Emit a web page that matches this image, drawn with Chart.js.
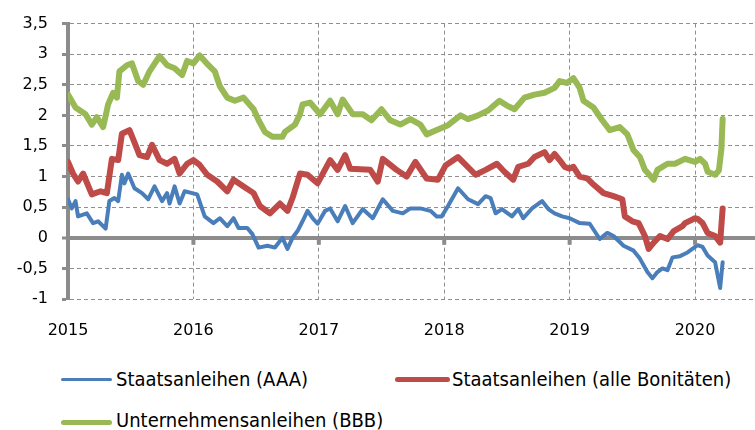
<!DOCTYPE html>
<html>
<head>
<meta charset="utf-8">
<script src="https://cdn.jsdelivr.net/npm/chart.js@4"></script>
<style>
  html, body { margin: 0; padding: 0; background: #fff; }
  #wrap { position: relative; width: 755px; height: 430px; overflow: hidden; }
  #chart { position: absolute; left: 0; top: 0; }
  .lg-line { position: absolute; border-radius: 3px; }
  .lg-text { position: absolute; font-family: "Liberation Sans Narrow", "DejaVu Sans Condensed", "Roboto", sans-serif;
             font-size: 20px; line-height: 24px; color: #000; white-space: nowrap; }
</style>
</head>
<body>
<div id="wrap">
  <canvas id="chart" width="755" height="350"></canvas>
  <div class="lg-line" style="left:61px;top:378px;width:51px;height:3px;background:#4A7EBB"></div>
  <div class="lg-text" style="left:116px;top:367px">Staatsanleihen (AAA)</div>
  <div class="lg-line" style="left:395px;top:377px;width:55px;height:5px;background:#BE4B48"></div>
  <div class="lg-text" style="left:452px;top:367px">Staatsanleihen (alle Bonitäten)</div>
  <div class="lg-line" style="left:61px;top:420px;width:51px;height:5px;background:#98B954"></div>
  <div class="lg-text" style="left:116px;top:408px">Unternehmensanleihen (BBB)</div>
</div>
<script>
// series labels
const seriesNames = ['Staatsanleihen (AAA)', 'Staatsanleihen (alle Bonitäten)', 'Unternehmensanleihen (BBB)'];

// x values are decimal years
const aaaYears = [2015.00, 2015.03, 2015.06, 2015.08, 2015.15, 2015.20, 2015.24, 2015.30, 2015.33, 2015.37,
  2015.40, 2015.43, 2015.45, 2015.48, 2015.53, 2015.59, 2015.64, 2015.69, 2015.75, 2015.79,
  2015.81, 2015.85, 2015.89, 2015.93, 2015.99, 2016.03, 2016.09, 2016.16, 2016.21, 2016.27,
  2016.32, 2016.36, 2016.43, 2016.47, 2016.52, 2016.59, 2016.65, 2016.71, 2016.75, 2016.79,
  2016.83, 2016.87, 2016.91, 2016.95, 2016.99, 2017.05, 2017.09, 2017.15, 2017.21, 2017.27,
  2017.35, 2017.43, 2017.51, 2017.59, 2017.67, 2017.73, 2017.81, 2017.89, 2017.94, 2017.98,
  2018.03, 2018.11, 2018.19, 2018.27, 2018.33, 2018.37, 2018.41, 2018.46, 2018.54, 2018.59,
  2018.63, 2018.70, 2018.78, 2018.83, 2018.88, 2018.94, 2019.00, 2019.08, 2019.16, 2019.24,
  2019.30, 2019.35, 2019.43, 2019.51, 2019.56, 2019.62, 2019.66, 2019.70, 2019.74, 2019.78,
  2019.82, 2019.88, 2019.94, 2020.02, 2020.06, 2020.10, 2020.16, 2020.20, 2020.22];
const aaaValues = [0.63, 0.48, 0.60, 0.35, 0.40, 0.24, 0.27, 0.15, 0.60, 0.65,
  0.60, 1.03, 0.89, 1.05, 0.81, 0.73, 0.63, 0.84, 0.60, 0.73,
  0.56, 0.84, 0.56, 0.76, 0.73, 0.71, 0.35, 0.24, 0.32, 0.19,
  0.32, 0.16, 0.16, 0.06, -0.16, -0.13, -0.16, 0.00, -0.18, 0.00,
  0.11, 0.27, 0.44, 0.32, 0.23, 0.44, 0.48, 0.27, 0.52, 0.24,
  0.47, 0.32, 0.63, 0.44, 0.40, 0.48, 0.48, 0.44, 0.35, 0.35,
  0.52, 0.81, 0.63, 0.55, 0.68, 0.65, 0.40, 0.47, 0.35, 0.47,
  0.32, 0.48, 0.60, 0.47, 0.40, 0.35, 0.32, 0.24, 0.23, -0.02,
  0.08, 0.03, -0.13, -0.21, -0.34, -0.56, -0.66, -0.56, -0.50, -0.53,
  -0.32, -0.30, -0.24, -0.12, -0.15, -0.29, -0.40, -0.82, -0.40];

const allYears = [2015.00, 2015.04, 2015.08, 2015.12, 2015.19, 2015.26, 2015.31, 2015.35, 2015.40, 2015.43,
  2015.49, 2015.53, 2015.57, 2015.63, 2015.67, 2015.73, 2015.79, 2015.85, 2015.89, 2015.95,
  2016.00, 2016.05, 2016.11, 2016.19, 2016.27, 2016.32, 2016.40, 2016.48, 2016.53, 2016.61,
  2016.69, 2016.75, 2016.79, 2016.85, 2016.91, 2016.99, 2017.09, 2017.15, 2017.21, 2017.25,
  2017.41, 2017.47, 2017.51, 2017.62, 2017.70, 2017.77, 2017.86, 2017.95, 2018.01, 2018.11,
  2018.25, 2018.33, 2018.42, 2018.48, 2018.55, 2018.59, 2018.67, 2018.72, 2018.80, 2018.84,
  2018.88, 2018.92, 2018.96, 2019.00, 2019.03, 2019.08, 2019.14, 2019.19, 2019.27, 2019.35,
  2019.42, 2019.44, 2019.50, 2019.55, 2019.60, 2019.63, 2019.67, 2019.72, 2019.78, 2019.83,
  2019.90, 2019.92, 2020.00, 2020.02, 2020.06, 2020.10, 2020.16, 2020.20, 2020.22];
const allValues = [1.24, 1.05, 0.92, 1.05, 0.71, 0.76, 0.73, 1.29, 1.27, 1.70,
  1.76, 1.56, 1.35, 1.32, 1.52, 1.27, 1.21, 1.29, 1.05, 1.21,
  1.27, 1.19, 1.03, 0.92, 0.76, 0.95, 0.84, 0.73, 0.52, 0.40,
  0.56, 0.44, 0.65, 1.05, 1.03, 0.89, 1.27, 1.11, 1.35, 1.13,
  1.11, 0.92, 1.29, 1.11, 1.00, 1.24, 0.97, 0.95, 1.18, 1.32,
  1.03, 1.11, 1.21, 1.08, 0.95, 1.16, 1.21, 1.32, 1.40, 1.27,
  1.37, 1.27, 1.16, 1.13, 1.16, 1.00, 0.97, 0.87, 0.73, 0.68,
  0.63, 0.35, 0.27, 0.24, 0.03, -0.18, -0.08, 0.03, -0.02, 0.11,
  0.19, 0.24, 0.32, 0.31, 0.24, 0.08, 0.03, -0.08, 0.48];

const bbbYears = [2015.00, 2015.06, 2015.14, 2015.19, 2015.23, 2015.28, 2015.32, 2015.36, 2015.39, 2015.41,
  2015.47, 2015.51, 2015.56, 2015.60, 2015.65, 2015.73, 2015.79, 2015.85, 2015.91, 2015.95,
  2016.00, 2016.05, 2016.12, 2016.17, 2016.21, 2016.27, 2016.33, 2016.40, 2016.48, 2016.52,
  2016.57, 2016.63, 2016.71, 2016.73, 2016.81, 2016.85, 2016.87, 2016.93, 2017.01, 2017.09,
  2017.15, 2017.19, 2017.27, 2017.35, 2017.42, 2017.50, 2017.57, 2017.65, 2017.73, 2017.81,
  2017.86, 2017.94, 2018.03, 2018.13, 2018.19, 2018.27, 2018.35, 2018.44, 2018.50, 2018.56,
  2018.64, 2018.72, 2018.80, 2018.88, 2018.92, 2018.98, 2019.03, 2019.08, 2019.11, 2019.19,
  2019.26, 2019.32, 2019.40, 2019.46, 2019.51, 2019.56, 2019.60, 2019.67, 2019.70, 2019.78,
  2019.84, 2019.92, 2020.00, 2020.04, 2020.08, 2020.10, 2020.16, 2020.19, 2020.21, 2020.22];
const bbbValues = [2.34, 2.13, 2.02, 1.85, 1.97, 1.81, 2.18, 2.37, 2.29, 2.72,
  2.82, 2.85, 2.56, 2.50, 2.72, 2.97, 2.82, 2.77, 2.66, 2.89,
  2.85, 2.98, 2.82, 2.72, 2.48, 2.29, 2.24, 2.29, 2.10, 1.92,
  1.73, 1.65, 1.65, 1.73, 1.85, 2.02, 2.18, 2.21, 2.02, 2.24,
  2.02, 2.26, 2.02, 2.02, 1.92, 2.10, 1.92, 1.85, 1.94, 1.85,
  1.69, 1.76, 1.84, 2.00, 1.94, 2.00, 2.08, 2.24, 2.16, 2.10,
  2.29, 2.34, 2.37, 2.45, 2.56, 2.53, 2.61, 2.45, 2.24, 2.13,
  1.92, 1.76, 1.81, 1.69, 1.43, 1.32, 1.11, 0.95, 1.11, 1.21,
  1.21, 1.29, 1.24, 1.29, 1.21, 1.08, 1.03, 1.10, 1.45, 1.94];

const yearTicks = [2015, 2016, 2017, 2018, 2019, 2020];

function toPoints(xs, ys) {
    return xs.map((x, i) => ({ x: x, y: ys[i] }));
}

const tickFont = { family: 'DejaVu Sans', size: 16 };
const gridGrey = '#8f8f8f';
const axisGrey = '#8c8c8c';
const isZero = c => !!(c.tick && c.tick.value === 0);

// little tick marks hanging under the zero line at each year
const zeroTicks = {
    id: 'zeroTicks',
    afterDatasetsDraw(chart) {
        const ctx = chart.ctx;
        const xs = chart.scales.x;
        const y0 = chart.scales.y.getPixelForValue(0);
        ctx.save();
        ctx.fillStyle = axisGrey;
        yearTicks.slice(1).forEach(yr => {
            const px = xs.getPixelForValue(yr);
            ctx.fillRect(px - 2, y0, 4, 7);
        });
        ctx.restore();
    }
};

new Chart(document.getElementById('chart').getContext('2d'), {
    type: 'line',
    data: {
        datasets: [
            { label: seriesNames[0], data: toPoints(aaaYears, aaaValues), borderColor: '#4A7EBB', borderWidth: 4 },
            { label: seriesNames[1], data: toPoints(allYears, allValues), borderColor: '#BE4B48', borderWidth: 6 },
            { label: seriesNames[2], data: toPoints(bbbYears, bbbValues), borderColor: '#98B954', borderWidth: 6 }
        ]
    },
    options: {
        responsive: false,
        animation: false,
        layout: { padding: { top: 20, right: 0, bottom: 0, left: 0 } },
        elements: {
            point: { radius: 0 },
            line: { tension: 0, borderJoinStyle: 'round', borderCapStyle: 'round', fill: false }
        },
        plugins: { legend: { display: false }, tooltip: { enabled: false } },
        scales: {
            x: {
                type: 'linear',
                min: 2015,
                max: 2020.478,
                afterFit: s => { s.height = 51; },
                afterBuildTicks: s => { s.ticks = yearTicks.map(v => ({ value: v })); },
                grid: { color: gridGrey, lineWidth: 1, drawTicks: false, borderDash: [4, 3] },
                border: { display: false, dash: [4, 3] },
                ticks: { padding: 22, color: '#000', font: tickFont, maxRotation: 0, callback: v => String(v) }
            },
            y: {
                min: -1,
                max: 3.5,
                afterFit: s => { s.width = 68; },
                grid: {
                    color: c => isZero(c) ? axisGrey : gridGrey,
                    lineWidth: c => isZero(c) ? 4 : 1,
                    borderDash: c => isZero(c) ? [] : [4, 3],
                    tickLength: 6,
                    tickWidth: 3,
                    tickColor: axisGrey
                },
                border: {
                    color: axisGrey,
                    width: 4,
                    dash: c => isZero(c) ? [] : [4, 3]
                },
                ticks: {
                    stepSize: 0.5,
                    padding: 14,
                    color: '#000',
                    font: tickFont,
                    callback: v => String(v).replace('.', ',')
                }
            }
        }
    },
    plugins: [zeroTicks]
});
</script>
</body>
</html>
